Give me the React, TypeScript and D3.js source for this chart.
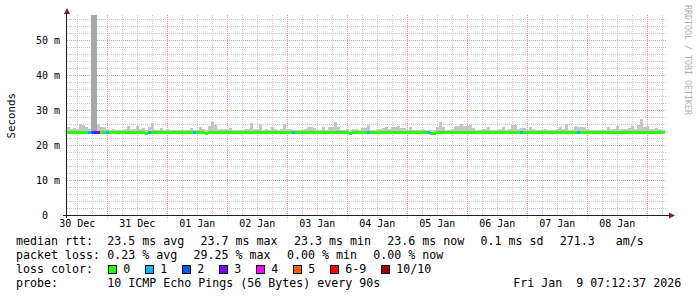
import React from "react";
import * as d3 from "d3";

// ---- data ----
const startTime = Date.UTC(2025, 11, 30, 7, 52, 37);
const endTime = Date.UTC(2026, 0, 9, 7, 52, 37);
const dataEnd = Date.UTC(2026, 0, 9, 7, 12, 37);
const binMinutes = 72;

// max ping (ms) per 72-minute step (smoke top)
const smokeMax = [
  25.1, 24.7, 24.9, 24.7, 26.1, 25.8, 25.1, 24.7, 57.1, 57.1, 26.1, 25.1, 25.1, 24.6, 24.2, 24.7, 24.2, 24.2, 24.2, 24.7,
  25.4, 24.5, 24.5, 25.4, 24.7, 24.9, 24.2, 25.1, 26.4, 24.2, 24.2, 24.9, 24.2, 24.7, 24.2, 24.4, 24.2, 24.2, 24.4, 24.2,
  24.2, 24.9, 24.2, 24.2, 25.1, 24.5, 24.2, 25.5, 26.6, 25.6, 24.7, 24.7, 24.7, 24.7, 24.9, 24.2, 24.2, 24.2, 24.2, 24.5,
  24.5, 26.4, 24.5, 24.7, 26.1, 24.2, 24.7, 24.2, 25.1, 24.5, 24.2, 24.7, 26.1, 24.7, 24.7, 24.2, 24.2, 24.2, 24.2, 24.5,
  25.1, 25.1, 24.9, 24.2, 24.2, 25.1, 24.2, 25.1, 25.1, 26.6, 25.1, 24.2, 24.2, 24.7, 24.2, 24.5, 24.5, 24.2, 24.9, 24.9,
  25.8, 24.2, 24.2, 24.7, 24.7, 24.9, 25.1, 24.7, 25.1, 25.1, 25.4, 24.9, 24.9, 24.2, 25.1, 24.2, 24.2, 24.2, 24.5, 24.2,
  24.2, 24.2, 24.2, 25.1, 26.7, 25.1, 24.2, 24.2, 24.5, 25.4, 25.4, 26.1, 25.4, 25.4, 25.8, 24.9, 24.2, 24.2, 24.5, 24.5,
  25.1, 24.2, 24.2, 24.2, 24.7, 25.1, 24.2, 24.7, 25.8, 25.8, 24.7, 24.9, 24.9, 24.2, 25.1, 24.7, 24.2, 24.2, 24.2, 24.5,
  24.2, 24.2, 24.2, 24.5, 25.1, 24.7, 26.1, 24.2, 24.2, 25.4, 25.1, 25.1, 25.1, 24.7, 24.2, 24.2, 24.2, 24.2, 24.2, 24.2,
  25.1, 24.7, 24.7, 25.4, 24.7, 24.5, 24.5, 24.9, 25.4, 24.7, 25.6, 27.5, 25.1, 25.4, 24.7, 24.5, 24.9, 24.5, 24.2, 24.2,
];

// median rtt (ms) per step
const medianRtt = [
  23.5, 23.5, 23.5, 23.5, 23.5, 23.5, 23.5, 23.5, 23.5, 23.5, 23.5, 23.5, 23.5, 23.5, 23.5, 23.5, 23.5, 23.5, 23.5, 23.5,
  23.5, 23.5, 23.5, 23.5, 23.5, 23.5, 23.2, 23.5, 23.5, 23.5, 23.5, 23.5, 23.5, 23.5, 23.5, 23.5, 23.5, 23.5, 23.5, 23.5,
  23.5, 23.5, 23.5, 23.5, 23.5, 23.5, 23.2, 23.5, 23.5, 23.5, 23.5, 23.5, 23.5, 23.5, 23.5, 23.5, 23.5, 23.5, 23.5, 23.5,
  23.5, 23.5, 23.5, 23.5, 23.5, 23.5, 23.5, 23.5, 23.5, 23.5, 23.5, 23.5, 23.5, 23.5, 23.5, 23.5, 23.5, 23.5, 23.5, 23.5,
  23.5, 23.5, 23.5, 23.5, 23.5, 23.5, 23.5, 23.5, 23.5, 23.5, 23.5, 23.5, 23.5, 23.5, 23.2, 23.5, 23.5, 23.5, 23.5, 23.5,
  23.5, 23.5, 23.5, 23.5, 23.5, 23.5, 23.5, 23.5, 23.5, 23.5, 23.5, 23.5, 23.5, 23.5, 23.5, 23.5, 23.5, 23.5, 23.5, 23.5,
  23.5, 23.2, 23.2, 23.5, 23.5, 23.5, 23.5, 23.5, 23.5, 23.5, 23.5, 23.5, 23.5, 23.5, 23.5, 23.5, 23.5, 23.5, 23.5, 23.5,
  23.5, 23.5, 23.5, 23.5, 23.5, 23.5, 23.5, 23.5, 23.5, 23.5, 23.5, 23.5, 23.5, 23.5, 23.5, 23.5, 23.5, 23.5, 23.5, 23.5,
  23.5, 23.5, 23.5, 23.5, 23.5, 23.5, 23.5, 23.5, 23.5, 23.5, 23.5, 23.5, 23.5, 23.5, 23.5, 23.5, 23.5, 23.5, 23.5, 23.5,
  23.5, 23.5, 23.5, 23.5, 23.5, 23.5, 23.5, 23.5, 23.5, 23.5, 23.5, 23.5, 23.5, 23.5, 23.5, 23.5, 23.5, 23.5, 23.5, 23.5,
];

// lost pings (of 10) per step
const lossCount = [
  0, 0, 0, 0, 0, 0, 0, 1, 2, 3, 3, 0, 0, 1, 0, 0, 0, 0, 0, 0,
  0, 0, 0, 0, 0, 0, 0, 1, 0, 0, 0, 0, 0, 0, 0, 0, 0, 0, 0, 0,
  0, 0, 1, 0, 0, 0, 0, 0, 0, 0, 0, 0, 0, 0, 0, 0, 0, 0, 0, 0,
  0, 0, 0, 0, 0, 0, 0, 0, 0, 0, 0, 0, 0, 0, 0, 1, 0, 0, 0, 0,
  0, 0, 0, 0, 0, 0, 0, 0, 0, 0, 0, 0, 0, 0, 0, 0, 0, 0, 0, 0,
  1, 0, 0, 0, 0, 0, 0, 0, 0, 0, 0, 0, 0, 0, 0, 0, 0, 0, 0, 0,
  1, 0, 0, 0, 0, 0, 0, 0, 0, 0, 0, 0, 0, 0, 0, 0, 0, 0, 0, 0,
  0, 0, 0, 0, 0, 0, 0, 0, 0, 0, 0, 1, 0, 0, 0, 0, 0, 0, 0, 0,
  0, 0, 0, 0, 0, 0, 0, 0, 0, 0, 1, 0, 0, 0, 0, 0, 0, 0, 0, 0,
  0, 0, 0, 0, 0, 0, 0, 0, 0, 0, 0, 0, 0, 0, 0, 0, 0, 0, 0, 0,
];
const smokeMin = 23.2;

const lossLabels = ["0", "1", "2", "3", "4", "5", "6-9", "10/10"];
const lossColors = ["#26ff00", "#00b8ff", "#0059ff", "#7e00ff", "#ff00ff", "#ff5e00", "#ff0000", "#a10000"];

const yTicks = [0, 10, 20, 30, 40, 50];

const legendRtt = ["23.5 ms avg", "23.7 ms max", "23.3 ms min", "23.6 ms now", "0.1 ms sd", "271.3   am/s"];
const legendLoss = ["0.23 % avg", "29.25 % max", "0.00 % min", "0.00 % now"];
const probeText = "10 ICMP Echo Pings (56 Bytes) every 90s";
const stampText = "Fri Jan  9 07:12:37 2026";

const MONO = "'DejaVu Sans Mono', 'Liberation Mono', monospace";

function lossColor(n: number) {
  if (n <= 5) return lossColors[n];
  if (n < 10) return lossColors[6];
  return lossColors[7];
}

export default function App() {
  const x = d3.scaleUtc().domain([startTime, endTime]).range([67, 667]);
  const y = d3.scaleLinear().domain([0, 400 / 7]).range([215, 15]);

  const majorDays = d3.utcDay.range(new Date(startTime), new Date(endTime));
  const minorHours = d3.utcHour
    .every(6)!
    .range(new Date(startTime), new Date(endTime))
    .filter((d) => d.getUTCHours() !== 0);
  const labelDays = d3.utcDay
    .range(d3.utcDay.floor(new Date(startTime)), new Date(endTime))
    .map((d) => new Date(d.getTime() + 12 * 3600e3))
    .filter((d) => d.getTime() >= startTime && d.getTime() <= endTime);
  const fmt = d3.utcFormat("%d %b");

  const yMinor = d3.range(2, 57, 2).filter((v) => v % 10 !== 0);
  const yMajor = yTicks.filter((v) => v > 0);

  const bins = smokeMax.map((mx, i) => {
    const t0 = startTime + i * binMinutes * 60e3;
    const t1 = Math.min(t0 + binMinutes * 60e3, dataEnd);
    return { x0: x(t0), x1: x(t1), mx, med: medianRtt[i], loss: lossCount[i] };
  });

  const charW = 7;
  const gap = 16.3;
  const col = 107.3;
  let cx = col;
  const rttPos = legendRtt.map((s) => {
    const p = cx;
    cx += s.length * charW + gap;
    return p;
  });
  cx = col;
  const lossPos = legendLoss.map((s) => {
    const p = cx;
    cx += s.length * charW + gap;
    return p;
  });
  cx = 108.2;
  const swPos = lossLabels.map((s) => {
    const p = cx;
    cx += 15 + s.length * charW + 15;
    return p;
  });

  return (
    <svg
      width={697}
      height={297}
      style={{ position: "absolute", left: 0, top: 0, background: "#ffffff" }}
      fontFamily={MONO}
    >
      <rect x={0} y={0} width={697} height={297} fill="#ffffff" />

      {/* grid */}
      <g shapeRendering="crispEdges">
        {yMinor.map((v) => (
          <line key={"ym" + v} x1={67} x2={667} y1={Math.round(y(v)) + 0.5} y2={Math.round(y(v)) + 0.5}
            stroke="#c8c8c8" strokeDasharray="1,1" />
        ))}
        {minorHours.map((d) => (
          <line key={"xm" + d.getTime()} x1={Math.floor(x(d)) + 0.5} x2={Math.floor(x(d)) + 0.5} y1={15} y2={215}
            stroke="#c8c8c8" strokeDasharray="1,1" />
        ))}
        {yMajor.map((v) => (
          <line key={"yM" + v} x1={67} x2={667} y1={Math.round(y(v)) + 0.5} y2={Math.round(y(v)) + 0.5}
            stroke="#e39a9a" strokeDasharray="1,1" />
        ))}
        {majorDays.map((d) => (
          <line key={"xM" + d.getTime()} x1={Math.floor(x(d)) + 0.5} x2={Math.floor(x(d)) + 0.5} y1={15} y2={218}
            stroke="#e39a9a" strokeDasharray="1,1" />
        ))}
      </g>

      {/* smoke */}
      <g shapeRendering="crispEdges">
        {bins.map((b, i) => (
          <rect key={"s" + i} x={b.x0} width={b.x1 - b.x0} y={y(b.mx)} height={y(smokeMin) - y(b.mx)}
            fill={b.mx > 40 ? "#a8a8a8" : "#c6c6c6"} />
        ))}
      </g>

      {/* median colored by loss */}
      <g shapeRendering="crispEdges">
        {bins.map((b, i) => (
          <rect key={"m" + i} x={b.x0} width={b.x1 - b.x0} y={y(b.med) - 1.5} height={3}
            fill={lossColor(b.loss)} />
        ))}
      </g>

      {/* axes */}
      <g shapeRendering="crispEdges">
        <line x1={63} x2={670} y1={215.5} y2={215.5} stroke="#1f1f1f" />
        <line x1={66.5} x2={66.5} y1={218} y2={12} stroke="#1f1f1f" />
      </g>
      <path d="M64,14 L67,8 L70,14 Z" fill="#801f1f" />
      <path d="M669,212.5 L675,215.5 L669,218.5 Z" fill="#801f1f" />

      {/* y labels */}
      {yTicks.map((v) => (
        <text key={"yl" + v} x={v === 0 ? 48 : 60} y={y(v) + 3.8} fontSize={10} textAnchor="end" fill="#000">
          {v === 0 ? "0" : `${v} m`}
        </text>
      ))}

      {/* x labels */}
      {labelDays.map((d) => (
        <text key={"xl" + d.getTime()} x={x(d)} y={226.5} fontSize={10} textAnchor="middle" fill="#000">
          {fmt(d)}
        </text>
      ))}

      {/* y title */}
      <text transform="translate(15,115.8) rotate(-90)" fontSize={10.8} textAnchor="middle" fill="#000">
        Seconds
      </text>

      {/* watermark */}
      <text transform="translate(684.5,5) rotate(90)" fontSize={8.3} fill="#b0b0b0">
        RRDTOOL / TOBI OETIKER
      </text>

      {/* legend */}
      <g fontSize={11.63} fill="#000" style={{ whiteSpace: "pre" }}>
        <text x={16} y={245}>median rtt:</text>
        {legendRtt.map((s, i) => (
          <text key={"r" + i} x={rttPos[i]} y={245} xmlSpace="preserve">{s}</text>
        ))}
        <text x={16} y={259}>packet loss:</text>
        {legendLoss.map((s, i) => (
          <text key={"l" + i} x={lossPos[i]} y={259} xmlSpace="preserve">{s}</text>
        ))}
        <text x={16} y={273}>loss color:</text>
        {lossLabels.map((s, i) => (
          <g key={"c" + i}>
            <rect x={Math.round(swPos[i]) + 0.5} y={265.5} width={8} height={8} fill={lossColors[i]} stroke="#000"
              shapeRendering="crispEdges" />
            <text x={swPos[i] + 15} y={273}>{s}</text>
          </g>
        ))}
        <text x={16} y={287}>probe:</text>
        <text x={col} y={287}>{probeText}</text>
        <text x={513.3} y={287} xmlSpace="preserve">{stampText}</text>
      </g>
    </svg>
  );
}
